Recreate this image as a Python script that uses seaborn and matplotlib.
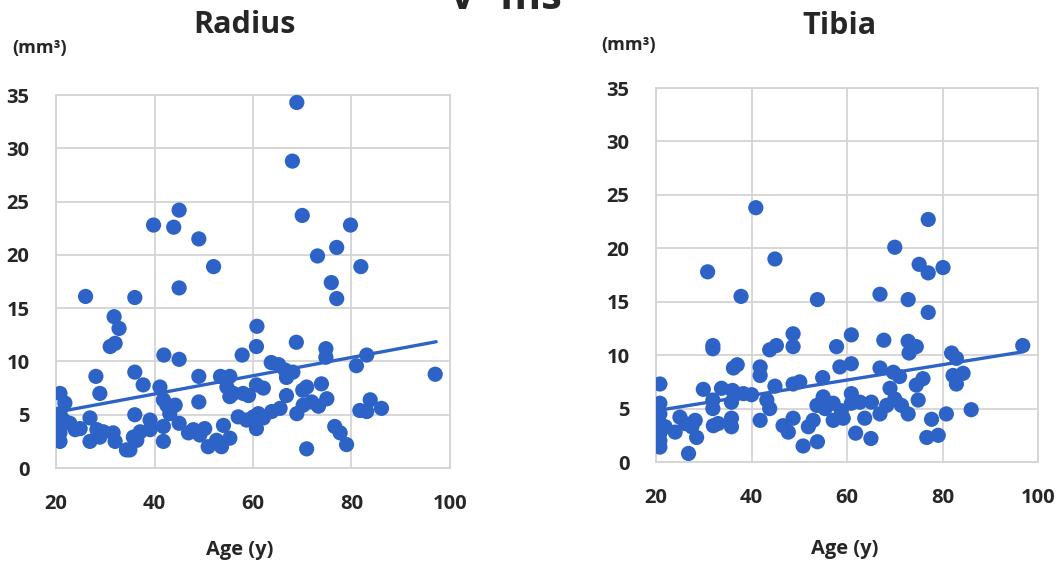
import numpy as np
import pandas as pd
import matplotlib.pyplot as plt
import seaborn as sns

# Radius: age (y) vs volume (mm3)
radius_age = [68.9, 68.0, 70.0, 39.8, 43.9, 45.0, 49.0, 52.0, 45.0, 79.8, 77.0, 73.1, 81.9, 75.9, 77.0,
              26.0, 36.0, 31.8, 32.8, 31.0, 32.0, 60.8, 60.7, 68.8, 41.9, 45.0, 57.8, 74.8, 74.8, 83.1,
              81.0, 97.0, 63.7, 65.2, 66.5, 68.1, 66.8, 28.1, 28.9, 36.0, 37.7, 49.0, 53.4, 55.3, 54.7,
              56.0, 55.3, 58.0, 59.1, 60.7, 62.1, 66.8, 70.1, 70.9, 73.9, 41.1, 41.8, 42.5, 44.2, 43.1,
              49.0, 20.8, 21.8, 20.8, 20.8, 20.8, 20.8, 21.5, 22.8, 23.9, 24.9, 26.9, 26.9, 28.3, 28.9,
              29.6, 31.6, 32.0, 34.3, 35.0, 36.0, 35.7, 36.4, 37.1, 39.1, 39.1, 41.8, 41.8, 45.0, 46.9,
              47.9, 49.2, 50.2, 50.9, 52.6, 53.6, 54.0, 55.3, 57.0, 58.7, 60.1, 60.7, 61.1, 62.1, 63.8,
              65.5, 68.9, 70.2, 70.9, 71.9, 73.3, 75.0, 76.6, 77.7, 79.0, 81.7, 83.1, 83.8, 86.1]
radius_vol = [34.3, 28.8, 23.7, 22.8, 22.6, 24.2, 21.5, 18.9, 16.9, 22.8, 20.7, 19.9, 18.9, 17.4, 15.9,
              16.1, 16.0, 14.2, 13.1, 11.4, 11.7, 13.3, 11.4, 11.8, 10.6, 10.2, 10.6, 11.2, 10.4, 10.6,
              9.6, 8.8, 9.9, 9.7, 9.2, 9.0, 8.5, 8.6, 7.0, 9.0, 7.8, 8.6, 8.6, 8.6, 7.6,
              7.0, 6.7, 7.0, 6.8, 7.8, 7.5, 6.8, 7.3, 7.6, 7.9, 7.6, 6.4, 5.9, 5.9, 5.1,
              6.2, 7.0, 6.1, 5.1, 4.2, 3.3, 2.5, 4.5, 4.2, 3.6, 3.7, 4.7, 2.5, 3.6, 2.9,
              3.4, 3.3, 2.5, 1.7, 1.7, 5.0, 2.9, 2.6, 3.4, 4.5, 3.6, 3.9, 2.5, 4.2, 3.3,
              3.6, 3.1, 3.7, 2.0, 2.6, 2.0, 4.0, 2.8, 4.8, 4.5, 4.8, 3.7, 5.1, 4.7, 5.3,
              5.6, 5.1, 5.9, 1.8, 6.2, 5.8, 6.5, 3.9, 3.3, 2.2, 5.4, 5.3, 6.4, 5.6]
radius_trend_age = [20.8, 97.2]
radius_trend_vol = [5.3, 11.85]

# Tibia: age (y) vs volume (mm3)
tibia_age = [40.9, 77.0, 70.0, 44.9, 30.8, 75.1, 77.0, 80.1, 37.8, 53.8, 66.9, 72.8, 77.0, 48.7, 48.7,
             60.9, 67.7, 31.9, 31.9, 43.8, 45.2, 57.8, 72.8, 74.5, 73.0, 81.9, 82.9, 96.8, 36.2, 37.0,
             41.8, 41.8, 58.5, 60.9, 66.9, 69.7, 71.0, 75.9, 74.5, 82.2, 84.3, 82.9, 20.8, 29.9, 33.7,
             36.0, 36.9, 38.3, 40.0, 44.9, 48.7, 50.1, 54.9, 69.0, 20.8, 20.8, 20.8, 20.8, 20.8, 20.8,
             21.9, 24.0, 25.0, 26.1, 26.8, 27.5, 28.5, 28.2, 31.9, 31.9, 32.0, 33.0, 35.8, 35.8, 35.8,
             41.8, 43.2, 43.8, 46.6, 47.7, 48.7, 50.8, 51.9, 52.9, 53.8, 53.7, 55.0, 55.4, 57.1, 57.1,
             58.8, 59.2, 60.9, 60.9, 61.8, 62.7, 63.7, 65.1, 65.0, 66.9, 68.3, 70.0, 71.4, 72.8, 74.9,
             76.7, 77.7, 79.1, 80.8, 86.0]
tibia_vol = [23.8, 22.7, 20.1, 19.0, 17.8, 18.5, 17.7, 18.2, 15.5, 15.2, 15.7, 15.2, 14.0, 12.0, 10.8,
             11.9, 11.4, 10.9, 10.6, 10.5, 10.9, 10.8, 11.3, 10.8, 10.2, 10.2, 9.7, 10.9, 8.8, 9.1,
             8.9, 8.1, 8.9, 9.2, 8.8, 8.4, 8.0, 7.8, 7.2, 8.1, 8.3, 7.3, 7.3, 6.8, 6.9,
             6.7, 6.4, 6.4, 6.3, 7.1, 7.3, 7.5, 7.9, 6.9, 5.5, 4.5, 3.6, 2.7, 2.0, 1.4,
             3.3, 2.8, 4.2, 3.6, 0.8, 3.3, 2.3, 3.9, 5.8, 5.0, 3.4, 3.6, 4.1, 3.3, 5.6,
             3.9, 5.8, 5.0, 3.4, 2.8, 4.1, 1.5, 3.3, 3.9, 1.9, 5.3, 6.1, 5.0, 5.5, 3.9,
             4.8, 4.1, 6.4, 5.5, 2.7, 5.6, 4.1, 5.6, 2.2, 4.5, 5.3, 5.9, 5.3, 4.5, 5.8,
             2.3, 4.0, 2.5, 4.5, 4.9]
tibia_trend_age = [20.8, 96.9]
tibia_trend_vol = [4.86, 10.32]

x_ticks = [20, 40, 60, 80, 100]
y_ticks = [0, 5, 10, 15, 20, 25, 30, 35]

sns.set_theme(style='white')
plt.rcParams['font.family'] = ['Open Sans', 'DejaVu Sans']

blue = '#2D63C6'
grid_color = '#d4d4d4'

fig = plt.figure(figsize=(10.59, 5.66), dpi=100)
ax1 = fig.add_axes([0.0529, 0.1731, 0.372, 0.659])
ax2 = fig.add_axes([0.6195, 0.1837, 0.3607, 0.6608])

panels = [
    (ax1, radius_age, radius_vol, radius_trend_age, radius_trend_vol),
    (ax2, tibia_age, tibia_vol, tibia_trend_age, tibia_trend_vol),
]

for ax, age, vol, t_age, t_vol in panels:
    df = pd.DataFrame({'age': age, 'vol': vol})
    sns.scatterplot(data=df, x='age', y='vol', ax=ax, s=120, color=blue,
                    edgecolor='none', zorder=3)
    sns.lineplot(x=t_age, y=t_vol, ax=ax, color=blue, linewidth=2.4, zorder=4)
    ax.set_xlim(20, 100)
    ax.set_ylim(0, 35)
    ax.set_xticks(x_ticks)
    ax.set_yticks(y_ticks)
    ax.tick_params(length=0, labelsize=14.5, pad=19)
    for lab in ax.get_xticklabels() + ax.get_yticklabels():
        lab.set_fontweight('bold')
    ax.grid(True, color=grid_color, linewidth=1.3)
    ax.set_axisbelow(True)
    for sp in ax.spines.values():
        sp.set_color(grid_color)
        sp.set_linewidth(1.3)
    ax.set_xlabel('')
    ax.set_ylabel('')

def ftext(x, y, s, size, **kw):
    fig.text(x / 1059, 1 - y / 566, s, fontsize=size, fontweight='bold',
             ha='center', va='center', **kw)

ftext(244, 25, 'Radius', 22)
ftext(839, 26, 'Tibia', 22)
ftext(240, 550, 'Age (y)', 14.5)
ftext(845, 549, 'Age (y)', 14.5)
ftext(40, 48, '(mm³)', 13)
ftext(629, 45, '(mm³)', 13)
fig.text(505 / 1059, 1 - 9 / 566, 'V- ms', fontsize=30, fontweight='bold',
         ha='center', va='baseline')

fig.savefig('out.png', dpi=100, facecolor='white')
